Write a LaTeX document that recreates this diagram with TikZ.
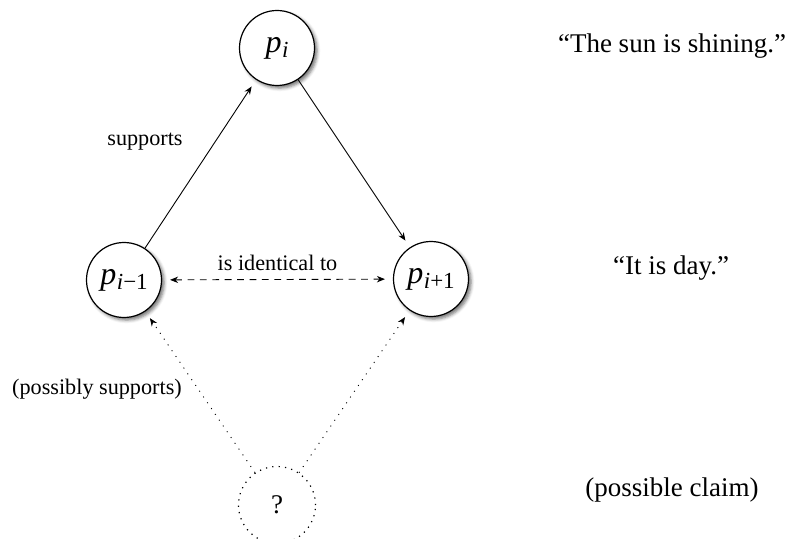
\documentclass[tikz,border=0pt]{standalone}
\usepackage{fontspec}
\setmainfont{Liberation Serif}
\usetikzlibrary{arrows.meta,shadows.blur}
\newcommand{\pv}[1]{{\fontsize{16}{18}\selectfont\textit{p}}\kern0.3pt\raisebox{-2.6pt}{\fontsize{11.5}{13}\selectfont #1}}
\tikzset{
  claim/.style={circle, draw, line width=0.6pt, minimum size=37.5pt, inner sep=0pt, fill=white,
    blur shadow={shadow xshift=1.3pt, shadow yshift=-1.3pt, shadow blur radius=1.6pt, shadow opacity=55},
    font=\fontsize{13.5}{16}\selectfont},
  possible/.style={circle, draw, line width=0.6pt, dash pattern=on 0.6pt off 2.6pt, minimum size=38.5pt,
    inner sep=0pt, font=\fontsize{13.5}{16}\selectfont},
  sidetext/.style={font=\fontsize{13.5}{16}\selectfont},
  lbl/.style={font=\fontsize{11.1}{13}\selectfont},
  arr/.style={-{Stealth[length=4pt,width=3.2pt]}, line width=0.45pt, shorten >=4pt},
  dotarr/.style={arr, dash pattern=on 0.5pt off 3pt},
  dasharr/.style={{Stealth[length=4pt,width=3.2pt]}-{Stealth[length=4pt,width=3.2pt]}, line width=0.45pt,
    dash pattern=on 3.4pt off 2.8pt, shorten >=4pt, shorten <=4pt}
}
\begin{document}
\begin{tikzpicture}[x=0.5pt, y=-0.5pt]
\useasboundingbox (0,0) rectangle (791,539);
\node[claim] (pi) at (277,48) {\pv{\textit{i}}};
\node[claim] (pim) at (124,280) {\pv{\textit{i}−1}};
\node[claim] (pip) at (431,279) {\pv{\textit{i}+1}};
\node[possible] (q) at (277,505) {?};
\node[sidetext] (t1) at (672,46) {“The sun is shining.”};
\node[sidetext] (t2) at (671,268) {“It is day.”};
\node[sidetext] (t3) at (672,490) {(possible claim)};
\draw[arr] (pim) -- (pi);
\draw[arr] (pi) -- (pip);
\draw[dasharr] (pim) -- (pip) node[lbl, midway, above=1pt] (lid) {is identical to};
\draw[dotarr] (q) -- (pim);
\draw[dotarr] (q) -- (pip);
\node[lbl] (lsup) at (145,142) {supports};
\node[lbl] (lpos) at (97,389) {(possibly supports)};
\end{tikzpicture}
\end{document}
